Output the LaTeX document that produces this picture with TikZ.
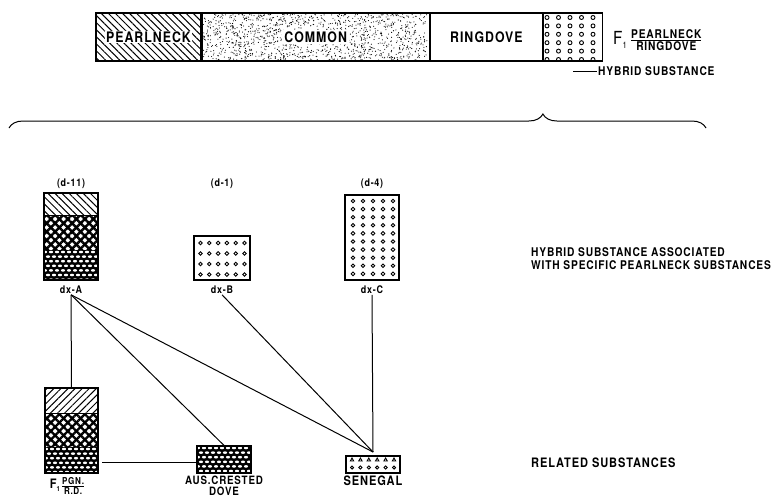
\documentclass[tikz,border=0pt]{standalone}
\usepackage{fontspec}
\setmainfont{TeX Gyre Heros}[LetterSpace=7, FakeStretch=0.85]
\usetikzlibrary{positioning}
\usetikzlibrary{patterns}
\usetikzlibrary{patterns.meta}
\usetikzlibrary{decorations.pathreplacing}
\tikzset{box/.style = {draw, line width=1.2pt, inner sep=0}}
\tikzset{lblsm/.style = {font=\bfseries\fontsize{10.5}{11}\selectfont, inner sep=1pt}}
\tikzset{lbl/.style = {font=\bfseries\fontsize{12}{13}\selectfont, inner sep=1pt}}
\tikzset{lblbig/.style = {font=\bfseries\fontsize{13}{14}\selectfont, inner sep=1pt}}
\tikzset{big/.style = {font=\bfseries\fontsize{14.5}{16}\selectfont, inner sep=1pt}}
\tikzset{hatchnw/.style = {pattern={Lines[angle=-45,distance=5pt,line width=1pt]}}}
\tikzset{hatchne/.style = {pattern={Lines[angle=45,distance=5pt,line width=1pt]}}}
\tikzset{meshA/.style = {pattern={Lines[angle=45,distance=6pt,line width=2.4pt]}}}
\tikzset{meshB/.style = {pattern={Lines[angle=-45,distance=6pt,line width=2.4pt]}}}
\tikzset{ring/.style = {line width=0.9pt}}
\tikzset{link/.style = {line width=1pt}}
% dark band with white ovals
\newcommand\dovedots[4]{%
  \begin{scope}
    \clip (#1,#2) rectangle (#3,#4);
    \fill (#1,#2) rectangle (#3,#4);
    \foreach \r in {0,...,7}
      \foreach \c in {0,...,10}
        \fill[white] ({#1+1+\c*6+mod(\r,2)*3},{#2+2+\r*4.6}) ellipse (2.1pt and 1.3pt);
  \end{scope}}

\begin{document}
\begin{tikzpicture}[x=1pt,y=-1pt]
  \useasboundingbox (0,0) rectangle (784,499);

  % top bar
  \fill[hatchnw] (96,13) rectangle (201,61);
  \pgfmathsetseed{7}
  \foreach \i in {1,...,1300}
    \fill ({202+225*rnd},{14+46*rnd}) circle (0.55pt);
  \foreach \r in {0,...,5}
    \foreach \c in {0,...,4}
      \draw[ring] ({547+\c*11.5},{17.5+\r*8.4}) circle (2pt);
  \node[box, minimum width=105pt, minimum height=48pt] (pearl) at (148.5,37) {};
  \node[box, minimum width=227pt, minimum height=48pt, right=0pt of pearl] (common) {};
  \node[box, minimum width=112pt, minimum height=48pt, right=0pt of common] (ring) {};
  \node[box, minimum width=59pt, minimum height=48pt, right=0pt of ring] (hybrid) {};
  \node[big, fill=white] at (pearl) {PEARLNECK};
  \node[big, fill=white, inner sep=2pt] at (common) {COMMON};
  \node[big] at (ring) {RINGDOVE};

  \node[font=\fontsize{18}{19}\selectfont, anchor=west, inner sep=0] (ftop) at (613,40) {F\raisebox{-4pt}{\fontsize{9}{9}\selectfont 1}};
  \node[lbl, align=center, right=3pt of ftop] (ftopfrac) {\underline{PEARLNECK}\\[-1pt]RINGDOVE};
  \node[lbl, anchor=west] (hyb) at (597,71) {HYBRID SUBSTANCE};
  \coordinate (hybl) at (573,71);
  \draw[line width=0.8pt] (hybl) -- (hyb.west);

  % brace
  \coordinate (bl) at (9,128);
  \coordinate (br) at (706,128);
  \draw[line width=1pt, decorate, decoration={brace, amplitude=14pt, aspect=0.766}] (bl) -- (br);

  % specific substances
  \fill[hatchnw] (44,193) rectangle (98,215);
  \fill[meshA] (44,215) rectangle (98,250);
  \fill[meshB] (44,215) rectangle (98,250);
  \dovedots{44}{250}{98}{280}
  \node[box, minimum width=54pt, minimum height=87pt] (dxA) at (71,236.5) {};
  \draw[line width=1pt] (44,215) -- (98,215);

  \foreach \r in {0,...,3}
    \foreach \c in {0,...,5}
      \draw[ring] ({200.5+\c*8.8},{243+\r*10.5}) circle (1.8pt);
  \node[box, minimum width=56pt, minimum height=44pt] (dxB) at (222,258) {};

  \foreach \r in {0,...,9}
    \foreach \c in {0,...,4}
      \draw[ring] ({353+\c*10},{201+\r*8.1}) circle (1.8pt);
  \node[box, minimum width=54pt, minimum height=85pt] (dxC) at (372,237.5) {};

  \node[lblsm, above=3pt of dxA] (dA) {(d-11)};
  \node[lblsm] (dB) at (dxB |- dA) {(d-1)};
  \node[lblsm] (dC) at (dxC |- dA) {(d-4)};
  \node[lblsm, below=4pt of dxA] (labA) {dx-A};
  \node[lblsm] (labB) at (labA -| dxB) {dx-B};
  \node[lblsm] (labC) at (labA -| dxC) {dx-C};

  \node[lbl, anchor=west, align=left] (assoc) at (530,259) {HYBRID SUBSTANCE ASSOCIATED\\WITH SPECIFIC PEARLNECK SUBSTANCES};

  % related substances
  \fill[hatchne] (45,388) rectangle (98,413);
  \fill[meshA] (45,413) rectangle (98,447);
  \fill[meshB] (45,413) rectangle (98,447);
  \dovedots{45}{447}{98}{473}
  \node[box, minimum width=53pt, minimum height=85pt] (fone) at (71.5,430.5) {};
  \draw[line width=1pt] (45,413) -- (98,413);

  \dovedots{197}{446}{251}{473}
  \node[box, minimum width=54pt, minimum height=27pt] (aus) at (224,459.5) {};

  \foreach \c in {0,...,5}
    \draw[ring] ({352+\c*8.4},{459.5}) ++(-1.7,1.5) -- ++(1.7,-3) -- ++(1.7,3) -- cycle;
  \foreach \c in {0,...,5}
    \draw[ring] ({352+\c*8.4},{467.5}) circle (1.6pt);
  \node[box, minimum width=54pt, minimum height=17pt] (sene) at (373,464.5) {};

  \node[lblbig] (fonelab) at (55,485) {F\raisebox{-3pt}{\fontsize{7}{7}\selectfont 1}};
  \node[font=\bfseries\fontsize{9.5}{10.5}\selectfont, inner sep=0, align=center, anchor=west] (fonefrac) at (62,486) {\underline{PGN.}\\R.D.};
  \node[font=\bfseries\fontsize{11.5}{11.5}\selectfont, inner sep=0, align=center, anchor=north] (auslab) at (224,475.5) {AUS.CRESTED\\DOVE};
  \node[lblbig, below=1pt of sene] (senelab) {SENEGAL};
  \node[lblbig, anchor=west] (related) at (530,463) {RELATED SUBSTANCES};

  % connectors
  \coordinate (apexS) at (373,452);
  \coordinate (fright) at (102,462);
  \draw[link] (labA.south) -- (fone.north);
  \draw[link] (labA.south) -- (aus.north);
  \draw[link] (labA.south) -- (apexS);
  \draw[link] (labB.south) -- (apexS);
  \draw[link] (labC.south) -- (apexS);
  \draw[link] (fright) -- (fright -| aus.west);
\end{tikzpicture}
\end{document}
